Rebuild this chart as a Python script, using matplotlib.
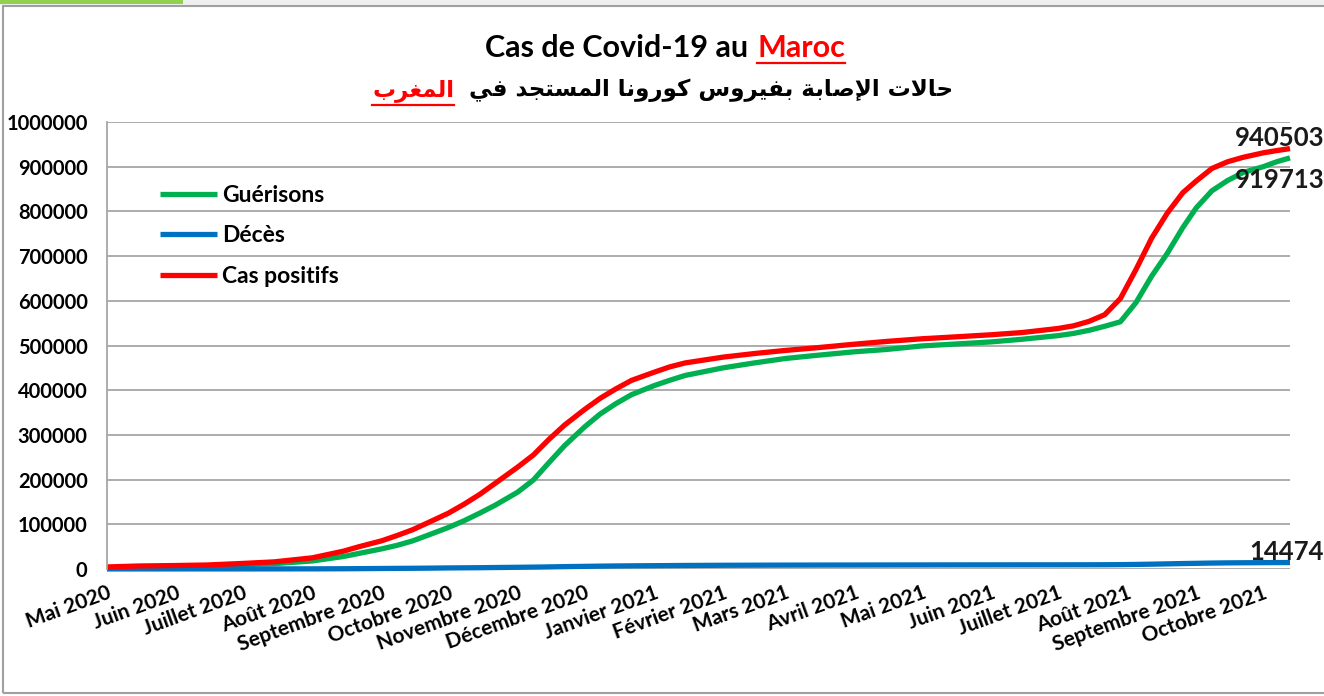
import matplotlib
matplotlib.use("Agg")
import matplotlib.pyplot as plt
from matplotlib.lines import Line2D
from matplotlib.patches import Rectangle
import pandas as pd

W, H = 1324, 696

dates = [
    "2020-05-01", "2020-05-15", "2020-06-01", "2020-06-15", "2020-07-01", "2020-07-15",
    "2020-08-01", "2020-08-15", "2020-08-22", "2020-09-01", "2020-09-08", "2020-09-15",
    "2020-09-22", "2020-10-01", "2020-10-08", "2020-10-15", "2020-10-22", "2020-11-01",
    "2020-11-08", "2020-11-15", "2020-11-22", "2020-12-01", "2020-12-08", "2020-12-15",
    "2020-12-22", "2021-01-01", "2021-01-08", "2021-01-15", "2021-02-01", "2021-02-15",
    "2021-03-01", "2021-03-15", "2021-04-01", "2021-04-15", "2021-05-01", "2021-05-15",
    "2021-06-01", "2021-06-15", "2021-07-01", "2021-07-08", "2021-07-15", "2021-07-22",
    "2021-07-29", "2021-08-05", "2021-08-12", "2021-08-19", "2021-08-26", "2021-09-01",
    "2021-09-08", "2021-09-15", "2021-09-22", "2021-10-01", "2021-10-07", "2021-10-13",
]
cas_positifs = [
    4600, 6700, 7800, 9000, 12500, 16000,
    25000, 40000, 50000, 63000, 75000, 88000,
    104000, 125000, 145000, 167000, 192000, 228000,
    255000, 290000, 322000, 357000, 382000, 403000,
    422000, 440000, 452000, 461000, 474000, 482000,
    489000, 495000, 503000, 509000, 515000, 519000,
    524000, 529000, 538000, 544000, 554000, 569000,
    605000, 670000, 740000, 796000, 842000, 868000,
    896000, 911000, 921000, 931000, 936000, 940503,
]
guerisons = [
    1500, 3000, 5000, 7500, 10000, 12000,
    18000, 28000, 35000, 45000, 53000, 63000,
    76000, 93000, 108000, 125000, 143000, 172000,
    199000, 238000, 276000, 318000, 347000, 370000,
    390000, 410000, 422000, 433000, 450000, 461000,
    471000, 478000, 486000, 491000, 499000, 503000,
    508000, 514000, 522000, 527000, 534000, 543000,
    553000, 596000, 655000, 706000, 764000, 808000,
    846000, 869000, 887000, 900000, 911000, 919713,
]
deces = [
    170, 190, 200, 210, 230, 250,
    330, 560, 800, 1150, 1400, 1600,
    1900, 2400, 2650, 2900, 3300, 3800,
    4200, 4700, 5300, 5900, 6400, 6800,
    7100, 7400, 7650, 7900, 8300, 8500,
    8700, 8800, 8900, 9000, 9100, 9200,
    9250, 9300, 9350, 9400, 9450, 9550,
    9800, 10200, 10800, 11500, 12200, 12700,
    13300, 13700, 13950, 14200, 14350, 14474,
]

month_ticks = pd.date_range("2020-05-01", "2021-10-01", freq="MS")
month_labels = [
    "Mai 2020", "Juin 2020", "Juillet 2020", "Août 2020", "Septembre 2020",
    "Octobre 2020", "Novembre 2020", "Décembre 2020", "Janvier 2021",
    "Février 2021", "Mars 2021", "Avril 2021", "Mai 2021", "Juin 2021",
    "Juillet 2021", "Août 2021", "Septembre 2021", "Octobre 2021",
]
y_ticks = list(range(0, 1000001, 100000))
y_tick_labels = [str(v) for v in y_ticks]

series = [
    ("Guérisons", guerisons, "#00b050"),
    ("Décès", deces, "#0070c0"),
    ("Cas positifs", cas_positifs, "#ff0000"),
]

FONT = "Lato"
LW = 3.8

# arabic shaping by hand, matplotlib has no complex text layout
FORMS = {
    "\u0627": ("\uFE8D", "\uFE8E", None, None),
    "\u0625": ("\uFE87", "\uFE88", None, None),
    "\u0628": ("\uFE8F", "\uFE90", "\uFE91", "\uFE92"),
    "\u0629": ("\uFE93", "\uFE94", None, None),
    "\u062A": ("\uFE95", "\uFE96", "\uFE97", "\uFE98"),
    "\u062C": ("\uFE9D", "\uFE9E", "\uFE9F", "\uFEA0"),
    "\u062D": ("\uFEA1", "\uFEA2", "\uFEA3", "\uFEA4"),
    "\u062F": ("\uFEA9", "\uFEAA", None, None),
    "\u0631": ("\uFEAD", "\uFEAE", None, None),
    "\u0633": ("\uFEB1", "\uFEB2", "\uFEB3", "\uFEB4"),
    "\u0635": ("\uFEB9", "\uFEBA", "\uFEBB", "\uFEBC"),
    "\u063A": ("\uFECD", "\uFECE", "\uFECF", "\uFED0"),
    "\u0641": ("\uFED1", "\uFED2", "\uFED3", "\uFED4"),
    "\u0643": ("\uFED9", "\uFEDA", "\uFEDB", "\uFEDC"),
    "\u0644": ("\uFEDD", "\uFEDE", "\uFEDF", "\uFEE0"),
    "\u0645": ("\uFEE1", "\uFEE2", "\uFEE3", "\uFEE4"),
    "\u0646": ("\uFEE5", "\uFEE6", "\uFEE7", "\uFEE8"),
    "\u0648": ("\uFEED", "\uFEEE", None, None),
    "\u064A": ("\uFEF1", "\uFEF2", "\uFEF3", "\uFEF4"),
    "LA": ("\uFEFB", "\uFEFC", None, None),
    "LAH": ("\uFEF9", "\uFEFA", None, None),
}


def shape_arabic(s):
    tokens = []
    i = 0
    while i < len(s):
        if s[i] == "\u0644" and i + 1 < len(s) and s[i + 1] in ("\u0627", "\u0625"):
            tokens.append("LA" if s[i + 1] == "\u0627" else "LAH")
            i += 2
        else:
            tokens.append(s[i])
            i += 1
    out = []
    for k, tok in enumerate(tokens):
        if tok not in FORMS:
            out.append(tok)
            continue
        iso, fin, ini, med = FORMS[tok]
        prev = tokens[k - 1] if k > 0 else None
        nxt = tokens[k + 1] if k + 1 < len(tokens) else None
        joins_prev = prev in FORMS and FORMS[prev][2] is not None
        joins_next = ini is not None and nxt in FORMS
        if joins_prev and joins_next:
            out.append(med)
        elif joins_prev:
            out.append(fin)
        elif joins_next:
            out.append(ini)
        else:
            out.append(iso)
    return "".join(reversed(out))


def colored_line(fig, center_x, y, parts, gap, underline_dy, **kw):
    renderer = fig.canvas.get_renderer()
    texts = []
    widths = []
    for s, color, _ in parts:
        t = fig.text(0, 1 - y / H, s, color=color, va="center", ha="left", **kw)
        texts.append(t)
        widths.append(t.get_window_extent(renderer).width)
    total = sum(widths) + gap * (len(parts) - 1)
    x = center_x - total / 2
    for t, w, (s, color, ul) in zip(texts, widths, parts):
        t.set_x(x / W)
        if ul:
            yy = 1 - (y + underline_dy) / H
            fig.add_artist(Line2D([x / W, (x + w) / W], [yy, yy], color=color, lw=1.6))
        x += w + gap


fig = plt.figure(figsize=(W / 100, H / 100), dpi=100, facecolor="white")

# outer frame
fig.patches.append(Rectangle((0, 1 - 5 / H), 1, 5 / H, transform=fig.transFigure,
                             facecolor="#efefef", edgecolor="none"))
fig.patches.append(Rectangle((0, 1 - 4 / H), 183 / W, 4 / H, transform=fig.transFigure,
                             facecolor="#92d050", edgecolor="none"))
fig.patches.append(Rectangle((2.5 / W, 1 - 692.5 / H), 1.2, (692.5 - 6) / H,
                             transform=fig.transFigure, facecolor="none",
                             edgecolor="#a0a0a0", lw=1.5))

ax = fig.add_axes([107 / W, 1 - 569 / H, (1290 - 107) / W, (569 - 122) / H])
x = pd.to_datetime(dates)
for label, values, color in series:
    ax.plot(x, values, color=color, lw=LW, label=label, solid_capstyle="butt",
            solid_joinstyle="round", clip_on=False)

ax.set_xlim(pd.Timestamp("2020-05-01"), pd.Timestamp("2021-10-13"))
ax.set_ylim(0, 1000000)
ax.set_yticks(y_ticks)
ax.set_yticklabels(y_tick_labels, fontfamily=FONT, fontweight="bold", fontsize=14.5)
ax.set_xticks(month_ticks)
ax.set_xticklabels(month_labels, fontfamily=FONT, fontweight="bold", fontsize=15,
                   rotation=20, ha="right", va="top", rotation_mode="anchor")
ax.tick_params(axis="y", length=0, pad=14)
ax.tick_params(axis="x", length=0, pad=10)
ax.grid(axis="y", color="#a6a6a6", lw=1.3)
ax.set_axisbelow(True)
for side in ("top", "right", "bottom"):
    ax.spines[side].set_visible(False)
ax.spines["left"].set_color("#a6a6a6")
ax.spines["left"].set_linewidth(1.3)

leg = ax.legend(loc="upper left", bbox_to_anchor=(160 / W, 1 - 185 / H),
                bbox_transform=fig.transFigure, frameon=False, borderpad=0,
                borderaxespad=0, handlelength=2.5, handletextpad=0.22,
                labelspacing=0.85, prop={"family": FONT, "weight": "bold", "size": 16.5})

# end-of-series data labels
last = x[-1]
label_kw = dict(textcoords="offset pixels", ha="left", va="center", fontfamily=FONT,
                fontweight="bold", fontsize=18.5, color="#1a1a1a", annotation_clip=False)
ax.annotate(f"{cas_positifs[-1]}", (last, cas_positifs[-1]), xytext=(-55, 11), **label_kw)
ax.annotate(f"{guerisons[-1]}", (last, guerisons[-1]), xytext=(-55, -22), **label_kw)
ax.annotate(f"{deces[-1]}", (last, deces[-1]), xytext=(-41, 11), **label_kw)

# titles
colored_line(fig, 665, 48, [("Cas de Covid-19 au", "black", False), ("Maroc", "#ff0000", True)],
             gap=9, underline_dy=15, fontfamily=FONT, fontweight="bold", fontsize=22)
arabic_black = shape_arabic("حالات الإصابة بفيروس كورونا المستجد في")
arabic_red = shape_arabic("المغرب")
colored_line(fig, 663, 90, [(arabic_red, "#ff0000", True), (arabic_black, "black", False)],
             gap=15, underline_dy=15, fontfamily="DejaVu Sans", fontweight="bold", fontsize=16.6)

fig.savefig("out.png", dpi=100, facecolor="white")
